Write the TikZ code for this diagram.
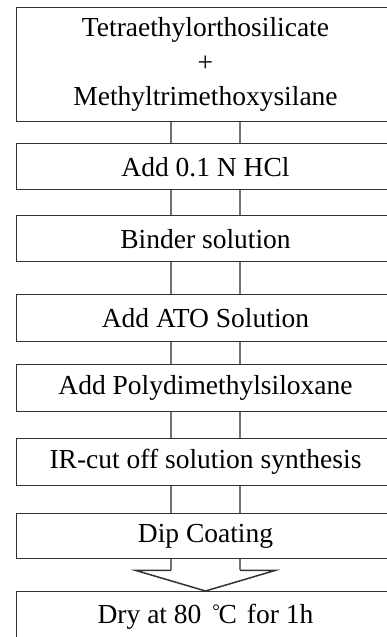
\documentclass[tikz,border=0pt]{standalone}
\usepackage{fontspec}
\setmainfont{Liberation Serif}
\newcommand\degC{{\fontsize{19}{19}\selectfont\raisebox{5.5pt}{°}}\kern-1.5pt C}
\begin{document}
\begin{tikzpicture}[x=1pt,y=1pt]
  \useasboundingbox (0,0) rectangle (387,637);
  \clip (0,0) rectangle (387,637);
  \tikzset{
    stepbox/.style={draw=black!80, line width=1.5pt, minimum width=378.5pt,
      inner sep=0pt, font=\fontsize{27.5}{34.5}\selectfont, align=center,
      anchor=north west},
    conn/.style={draw=black!55, line width=2pt},
    head/.style={draw=black!80, line width=1.5pt, line join=miter}
  }
  % process steps
  \node[stepbox, minimum height=114pt] (b1) at (15.5,630)
    {Tetraethylorthosilicate\\+\\Methyltrimethoxysilane};
  \node[stepbox, minimum height=46pt] (b2) at (15.5,494) {Add 0.1 N HCl};
  \node[stepbox, minimum height=46pt] (b3) at (15.5,422) {Binder solution};
  \node[stepbox, minimum height=47pt] (b4) at (15.5,343) {Add ATO Solution};
  \node[stepbox, minimum height=47pt] (b5) at (15.5,273) {Add Polydimethylsiloxane};
  \node[stepbox, minimum height=47pt] (b6) at (15.5,199) {IR-cut off solution synthesis};
  \node[stepbox, minimum height=45pt] (b7) at (15.5,124) {Dip Coating};
  \node[stepbox, minimum height=50pt] (b8) at (15.5,46)
    {Dry at 80\hspace{11pt}\degC\hspace{10pt}for 1h};
  % double-line connectors between steps
  \foreach \a/\b in {b1/b2,b2/b3,b3/b4,b4/b5,b5/b6,b6/b7}{
    \draw[conn] ([xshift=-34.5pt]\a.south) -- ([xshift=-34.5pt]\b.north);
    \draw[conn] ([xshift=34.5pt]\a.south) -- ([xshift=34.5pt]\b.north);
  }
  % block arrow into the last step
  \draw[conn] ([xshift=-34.5pt]b7.south) -- ++(0,-11);
  \draw[conn] ([xshift=34.5pt]b7.south) -- ++(0,-11);
  \draw[head] ([xshift=-34.5pt,yshift=-11pt]b7.south) -- ++(-35,0) -- (b8.north)
    -- ([xshift=69.5pt,yshift=-11pt]b7.south) -- ([xshift=34.5pt,yshift=-11pt]b7.south);
\end{tikzpicture}
\end{document}
